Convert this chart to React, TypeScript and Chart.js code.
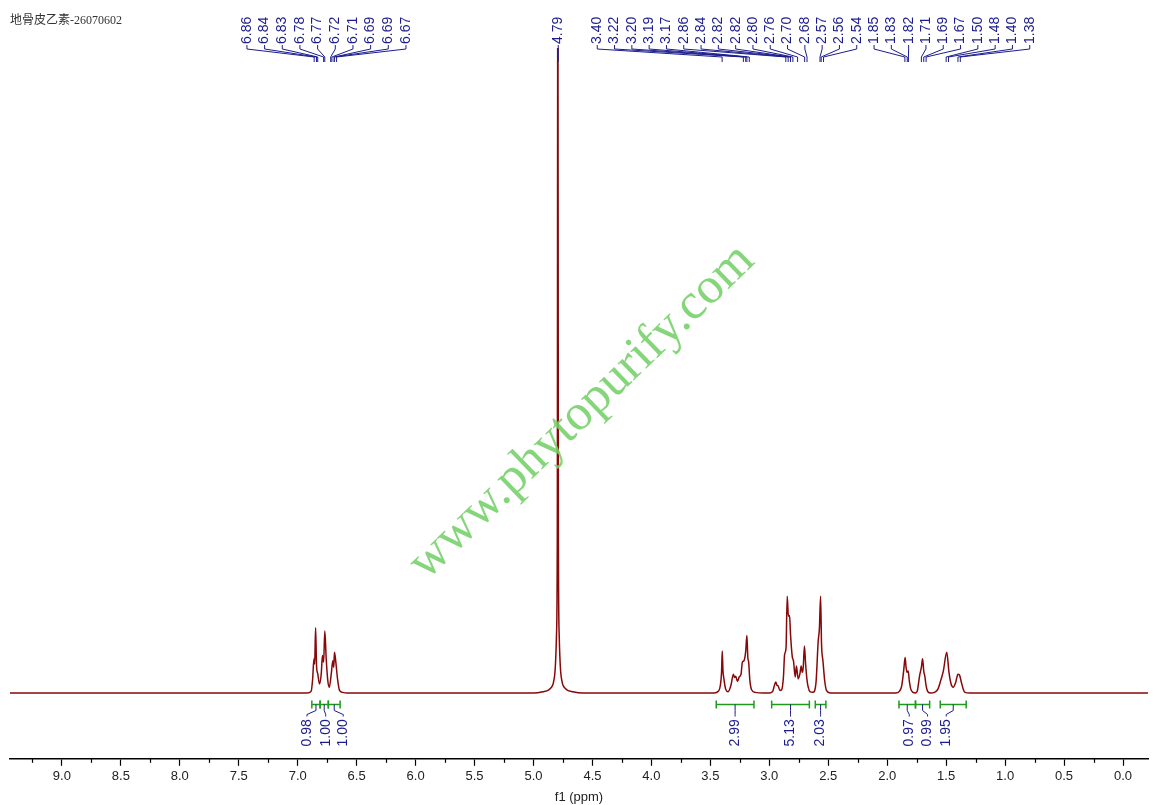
import { useEffect, useRef } from "react"
import { Chart, registerables } from "chart.js"

Chart.register(...registerables)

// spectrum trace (ppm, relative intensity)
const specPpm = [
  9.5, 6.92, 6.885, 6.873, 6.862, 6.856, 6.848, 6.84, 6.83, 6.815, 6.8, 6.79, 6.78, 6.77, 6.758, 6.745, 6.732,
  6.715, 6.702, 6.694, 6.688, 6.676, 6.662, 6.645, 6.62, 6.58,
  5.0, 4.92, 4.87, 4.84, 4.83, 4.815, 4.805, 4.798, 4.7935, 4.789, 4.782, 4.772, 4.757, 4.747, 4.717, 4.667, 4.58,
  3.47, 3.43, 3.415, 3.405, 3.399, 3.393, 3.385, 3.37, 3.35, 3.325, 3.305, 3.295, 3.285, 3.27, 3.255, 3.24, 3.228,
  3.215, 3.2, 3.19, 3.182, 3.175, 3.165, 3.15, 3.12, 3.05,
  3.0, 2.97, 2.955, 2.945, 2.935, 2.925, 2.91, 2.895, 2.88, 2.87, 2.858, 2.848, 2.838, 2.828, 2.82, 2.805, 2.795,
  2.78, 2.77, 2.755, 2.74, 2.73, 2.72, 2.712, 2.702, 2.692, 2.68, 2.67, 2.655, 2.63, 2.605, 2.585, 2.575, 2.565,
  2.557, 2.545, 2.53, 2.515, 2.48,
  1.93, 1.895, 1.877, 1.86, 1.848, 1.84, 1.832, 1.822, 1.812, 1.8, 1.78, 1.76, 1.745, 1.725, 1.71, 1.7, 1.69,
  1.68, 1.67, 1.655, 1.63, 1.6, 1.57, 1.545, 1.524, 1.495, 1.476, 1.458, 1.44, 1.42, 1.4, 1.387, 1.374, 1.355,
  1.34, 1.3, -0.25,
]
const specInt = [
  0, 0, 0.3, 2.2, 5.3, 4.5, 10.1, 4.2, 3.0, 1.4, 3.0, 5.8, 4.8, 9.6, 5.3, 2.0, 0.9,
  3.0, 5.0, 4.0, 6.3, 4.7, 2.2, 0.4, 0.1, 0,
  0, 0.2, 0.5, 1.1, 1.7, 4, 9, 25, 130, 25, 9, 4, 1.7, 1.1, 0.5, 0.2, 0,
  0, 0.3, 1.2, 3.2, 6.5, 3.5, 2.2, 0.6, 0.2, 1.2, 2.9, 2.4, 2.6, 1.8, 2.5, 2.9, 4.8,
  5.0, 6.5, 8.9, 5.5, 4.8, 2.0, 0.5, 0.1, 0,
  0, 0.3, 1.3, 1.7, 1.2, 1.1, 0.4, 0.5, 2.5, 6.0, 7.0, 15.0, 11.9, 12.0, 9.1, 5.6, 5.0,
  2.5, 4.2, 2.2, 3.0, 4.2, 3.2, 4.0, 7.3, 4.5, 2.0, 0.9, 0.2, 0.1, 1.4, 8.1, 10, 15.0,
  7.6, 5.0, 1.9, 0.4, 0,
  0, 0.3, 1.1, 3.5, 5.5, 4.0, 3.2, 3.4, 1.8, 0.6, 0.1, 0, 0.3, 2.7, 4.0, 5.3, 3.4,
  2.5, 1.1, 0.2, 0, 0.1, 0.6, 2.0, 3.4, 6.3, 3.2, 1.4, 0.9, 1.6, 2.9, 2.8, 1.9, 0.6,
  0.1, 0, 0,
]

// peak picking labels
const peaksAromatic = [6.86, 6.84, 6.83, 6.78, 6.77, 6.72, 6.71, 6.69, 6.69, 6.67]
const peaksSolvent = [4.79]
const peaksAliphatic = [
  3.4, 3.22, 3.2, 3.19, 3.17, 2.86, 2.84, 2.82, 2.82, 2.8, 2.76, 2.7, 2.68, 2.57, 2.56, 2.54,
  1.85, 1.83, 1.82, 1.71, 1.69, 1.67, 1.5, 1.48, 1.4, 1.38,
]

// integrals
const integralFrom = [6.88, 6.81, 6.74, 3.45, 2.98, 2.61, 1.9, 1.76, 1.55]
const integralTo = [6.81, 6.74, 6.64, 3.13, 2.66, 2.52, 1.76, 1.64, 1.33]
const integralValues = ["0.98", "1.00", "1.00", "2.99", "5.13", "2.03", "0.97", "0.99", "1.95"]
const integralLabelShift = [-9, 1.5, 9, 0, 0, 0, 2, 5, -7]

const X_MIN = -0.212
const X_MAX = 9.44

const LABEL_FONT = '14px "Liberation Sans", Arial, sans-serif'
const BLUE = "#1c1c8e"
const GREEN = "#1f9a1f"

function drawRotated(ctx: CanvasRenderingContext2D, text: string, x: number, y: number) {
  ctx.save()
  ctx.translate(x, y)
  ctx.rotate(-Math.PI / 2)
  ctx.textAlign = "left"
  ctx.textBaseline = "middle"
  ctx.fillText(text, 0, 0)
  ctx.restore()
}

const annotations = {
  id: "nmrAnnotations",
  afterDatasetsDraw(chart: Chart) {
    const ctx = chart.ctx
    const xs = chart.scales.x
    const ys = chart.scales.y
    const top = chart.chartArea.top

    // watermark
    ctx.save()
    ctx.translate(582, 412)
    ctx.rotate((-44 * Math.PI) / 180)
    ctx.font = '51px "Liberation Serif", "Times New Roman", serif'
    ctx.fillStyle = "rgba(116, 208, 104, 0.88)"
    ctx.textAlign = "center"
    ctx.textBaseline = "middle"
    ctx.fillText("www.phytopurify.com", 0, 0)
    ctx.restore()

    // minor ticks
    ctx.save()
    ctx.strokeStyle = "#000"
    ctx.lineWidth = 1.2
    const axisY = xs.top
    for (let v = Math.ceil(X_MIN / 0.25) * 0.25; v <= X_MAX; v += 0.5) {
      if (Math.abs((v / 0.5) - Math.round(v / 0.5)) < 1e-6) { v -= 0.25; continue }
      const px = Math.round(xs.getPixelForValue(v)) + 0.5
      ctx.beginPath()
      ctx.moveTo(px, axisY)
      ctx.lineTo(px, axisY + 4)
      ctx.stroke()
    }
    ctx.restore()

    // peak labels
    ctx.save()
    ctx.font = LABEL_FONT
    ctx.fillStyle = BLUE
    ctx.strokeStyle = BLUE
    ctx.lineWidth = 1
    const drawGroup = (ppms: number[], startX: number, spacing: number) => {
      ppms.forEach((p, i) => {
        const lx = startX + i * spacing
        const px = xs.getPixelForValue(p)
        drawRotated(ctx, p.toFixed(2), lx, top - 4)
        ctx.beginPath()
        ctx.moveTo(lx, top - 3)
        ctx.lineTo(lx, top + 1)
        ctx.lineTo(px, top + 9)
        ctx.lineTo(px, top + 14)
        ctx.stroke()
      })
    }
    const aroPx = peaksAromatic.map((p) => xs.getPixelForValue(p))
    const aroMean = aroPx.reduce((a, b) => a + b, 0) / aroPx.length
    const sp1 = 17.67
    drawGroup(peaksAromatic, aroMean - ((peaksAromatic.length - 1) / 2) * sp1, sp1)
    const solvX = xs.getPixelForValue(peaksSolvent[0])
    drawGroup(peaksSolvent, solvX, 0)
    drawGroup(peaksAliphatic, solvX + 39, 17.3)
    ctx.restore()

    // integrals
    ctx.save()
    const base = ys.getPixelForValue(0)
    const by = Math.round(base + 11) + 0.5
    integralFrom.forEach((from, i) => {
      const x1 = xs.getPixelForValue(from)
      const x2 = xs.getPixelForValue(integralTo[i])
      ctx.strokeStyle = GREEN
      ctx.lineWidth = 1.5
      ctx.beginPath()
      ctx.moveTo(x1, by)
      ctx.lineTo(x2, by)
      ctx.moveTo(x1, by - 4)
      ctx.lineTo(x1, by + 4)
      ctx.moveTo(x2, by - 4)
      ctx.lineTo(x2, by + 4)
      ctx.stroke()

      const cx = (x1 + x2) / 2
      const lx = cx + integralLabelShift[i]
      ctx.strokeStyle = BLUE
      ctx.lineWidth = 1
      ctx.beginPath()
      ctx.moveTo(cx, by)
      ctx.lineTo(cx, by + 6)
      ctx.lineTo(lx, by + 10)
      ctx.lineTo(lx, by + 12)
      ctx.stroke()

      ctx.font = LABEL_FONT
      ctx.fillStyle = BLUE
      drawRotated(ctx, integralValues[i], lx, by + 42)
    })
    ctx.restore()

    // sample title
    ctx.save()
    ctx.font = '12px "Liberation Serif", "Noto Sans CJK SC", serif'
    ctx.fillStyle = "#333"
    ctx.textAlign = "left"
    ctx.textBaseline = "alphabetic"
    ctx.fillText("地骨皮乙素-26070602", 10, 24)
    ctx.restore()
  },
}

export default function App() {
  const chartRef = useRef<HTMLCanvasElement>(null)
  const chartInstance = useRef<Chart | null>(null)

  useEffect(() => {
    if (!chartRef.current) return
    if (chartInstance.current) chartInstance.current.destroy()

    const points = specPpm.map((x, i) => ({ x, y: specInt[i] }))

    chartInstance.current = new Chart(chartRef.current, {
      type: "line",
      data: {
        datasets: [
          {
            data: points,
            borderColor: "#860808",
            borderWidth: 1.5,
            pointRadius: 0,
            cubicInterpolationMode: "monotone",
            fill: false,
          },
        ],
      },
      options: {
        animation: false,
        responsive: false,
        layout: { padding: { left: 10, right: 6, top: 48, bottom: 0 } },
        scales: {
          x: {
            type: "linear",
            reverse: true,
            min: X_MIN,
            max: X_MAX,
            border: { display: true, color: "#000", width: 1.5 },
            grid: {
              display: true,
              drawOnChartArea: false,
              drawTicks: true,
              tickLength: 7,
              tickColor: "#000",
              tickWidth: 1.2,
            },
            ticks: {
              stepSize: 0.5,
              includeBounds: false,
              autoSkip: false,
              maxRotation: 0,
              padding: 3,
              color: "#222",
              font: { family: '"Liberation Sans", Arial, sans-serif', size: 13 },
              callback: (v) => Number(v).toFixed(1),
            },
            title: {
              display: true,
              text: "f1 (ppm)",
              color: "#222",
              font: { family: '"Liberation Sans", Arial, sans-serif', size: 13 },
              padding: { top: 2, bottom: 0 },
            },
          },
          y: { display: false, min: -10.2, max: 100 },
        },
        plugins: {
          legend: { display: false },
          tooltip: { enabled: false },
        },
      },
      plugins: [annotations],
    })

    return () => {
      if (chartInstance.current) {
        chartInstance.current.destroy()
        chartInstance.current = null
      }
    }
  }, [])

  return (
    <div style={{ position: "fixed", left: 0, top: 0, width: 1154, height: 805, background: "#fff" }}>
      <canvas ref={chartRef} width={1154} height={805} />
    </div>
  )
}
